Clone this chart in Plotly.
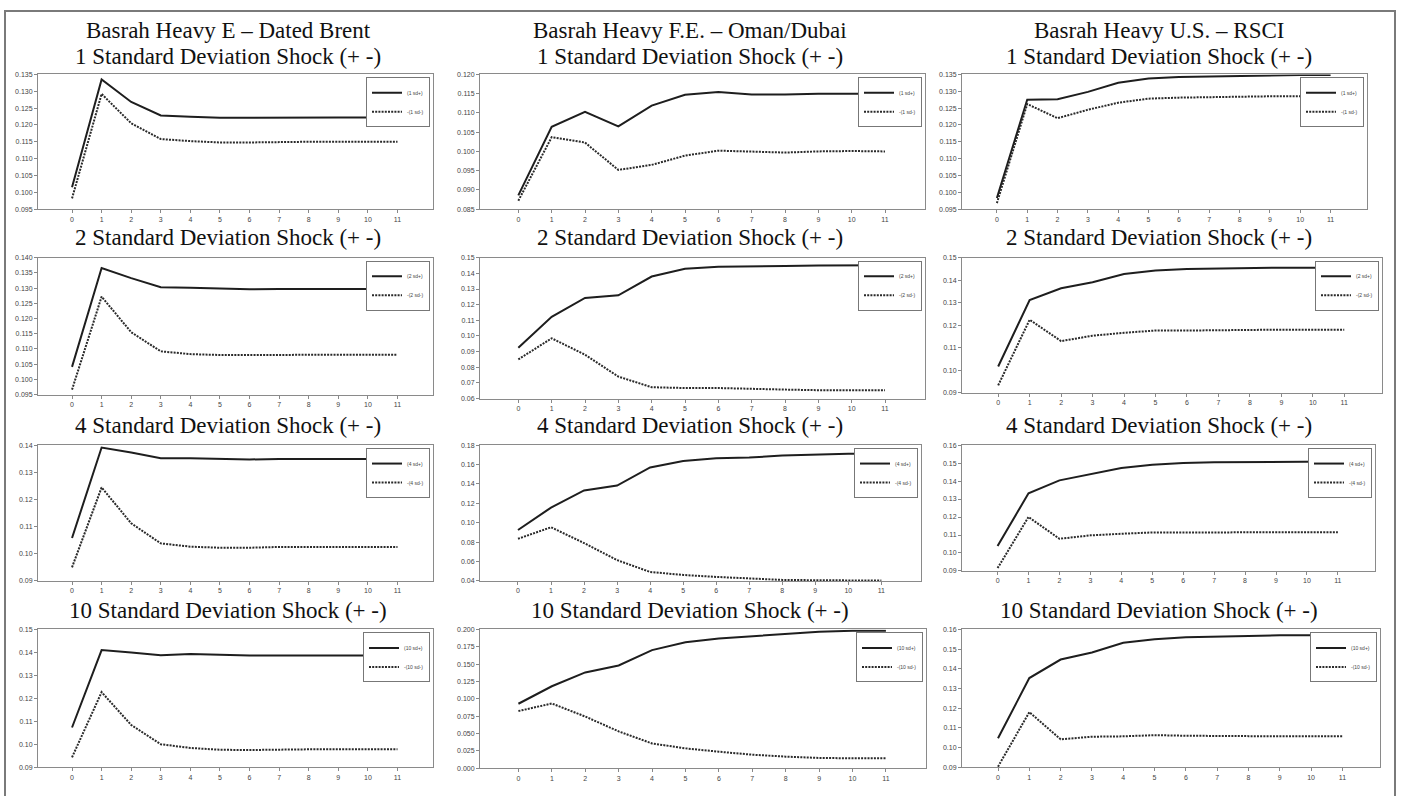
import plotly.graph_objects as go

# ---------------- data ----------------
steps = list(range(12))
x_tick_labels = [str(s) for s in steps]

panel_headers = ["Basrah Heavy E – Dated Brent",
                 "Basrah Heavy F.E. – Oman/Dubai",
                 "Basrah Heavy U.S. – RSCI"]
shock_sizes = [1, 2, 4, 10]

# Basrah Heavy E - Dated Brent
brent_pos_1 = [0.1015, 0.1335, 0.1268, 0.1228, 0.1224, 0.1221, 0.1221, 0.1222, 0.1222, 0.1222, 0.1222, 0.1222]
brent_neg_1 = [0.0982, 0.1292, 0.1205, 0.1158, 0.1152, 0.1148, 0.1148, 0.1150, 0.1150, 0.1150, 0.1150, 0.1150]
brent_pos_2 = [0.1041, 0.1366, 0.1333, 0.1303, 0.1301, 0.1298, 0.1296, 0.1297, 0.1297, 0.1297, 0.1297, 0.1297]
brent_neg_2 = [0.0966, 0.1272, 0.1155, 0.1092, 0.1083, 0.1080, 0.1080, 0.1081, 0.1081, 0.1081, 0.1081, 0.1081]
brent_pos_4 = [0.1058, 0.1391, 0.1373, 0.1352, 0.1352, 0.1349, 0.1347, 0.1349, 0.1349, 0.1349, 0.1349, 0.1349]
brent_neg_4 = [0.0950, 0.1244, 0.1112, 0.1038, 0.1026, 0.1022, 0.1022, 0.1025, 0.1025, 0.1025, 0.1025, 0.1025]
brent_pos_10 = [0.1073, 0.1410, 0.1400, 0.1388, 0.1393, 0.1389, 0.1387, 0.1387, 0.1387, 0.1387, 0.1387, 0.1387]
brent_neg_10 = [0.0943, 0.1227, 0.1084, 0.1000, 0.0984, 0.0976, 0.0975, 0.0978, 0.0978, 0.0978, 0.0978, 0.0978]

# Basrah Heavy F.E. - Oman/Dubai
oman_pos_1 = [0.0886, 0.1064, 0.1103, 0.1065, 0.1119, 0.1147, 0.1154, 0.1148, 0.1148, 0.1150, 0.1150, 0.1150]
oman_neg_1 = [0.0872, 0.1037, 0.1023, 0.0952, 0.0965, 0.0989, 0.1002, 0.0999, 0.0997, 0.1000, 0.1001, 0.1000]
oman_pos_2 = [0.0925, 0.1122, 0.1243, 0.1260, 0.1380, 0.1430, 0.1443, 0.1443, 0.1447, 0.1450, 0.1452, 0.1452]
oman_neg_2 = [0.0850, 0.0985, 0.0880, 0.0740, 0.0672, 0.0667, 0.0667, 0.0660, 0.0657, 0.0653, 0.0653, 0.0653]
oman_pos_4 = [0.0925, 0.1156, 0.1332, 0.1383, 0.1569, 0.1637, 0.1664, 0.1671, 0.1692, 0.1702, 0.1712, 0.1712]
oman_neg_4 = [0.0834, 0.0953, 0.0790, 0.0614, 0.0492, 0.0461, 0.0441, 0.0427, 0.0410, 0.0407, 0.0403, 0.0403]
oman_pos_10 = [0.0929, 0.1181, 0.1381, 0.1481, 0.1702, 0.1814, 0.1871, 0.1905, 0.1943, 0.1967, 0.1981, 0.1981]
oman_neg_10 = [0.0824, 0.0933, 0.0745, 0.0531, 0.0357, 0.0286, 0.0238, 0.0195, 0.0167, 0.0148, 0.0143, 0.0143]

# Basrah Heavy U.S. - RSCI
rsci_pos_1 = [0.0983, 0.1275, 0.1276, 0.1298, 0.1325, 0.1338, 0.1342, 0.1344, 0.1346, 0.1347, 0.1348, 0.1348]
rsci_neg_1 = [0.0968, 0.1262, 0.1220, 0.1245, 0.1266, 0.1278, 0.1281, 0.1283, 0.1284, 0.1285, 0.1285, 0.1285]
rsci_pos_2 = [0.1016, 0.1312, 0.1364, 0.1391, 0.1428, 0.1443, 0.1450, 0.1453, 0.1456, 0.1456, 0.1456, 0.1456]
rsci_neg_2 = [0.0932, 0.1224, 0.1129, 0.1153, 0.1166, 0.1176, 0.1176, 0.1178, 0.1181, 0.1180, 0.1180, 0.1180]
rsci_pos_4 = [0.1039, 0.1332, 0.1404, 0.1437, 0.1473, 0.1491, 0.1500, 0.1504, 0.1506, 0.1509, 0.1509, 0.1509]
rsci_neg_4 = [0.0916, 0.1200, 0.1079, 0.1098, 0.1107, 0.1114, 0.1114, 0.1114, 0.1114, 0.1116, 0.1116, 0.1116]
rsci_pos_10 = [0.1047, 0.1353, 0.1447, 0.1483, 0.1532, 0.1550, 0.1560, 0.1565, 0.1567, 0.1570, 0.1570, 0.1570]
rsci_neg_10 = [0.0903, 0.1180, 0.1042, 0.1055, 0.1057, 0.1063, 0.1060, 0.1058, 0.1058, 0.1058, 0.1058, 0.1058]

series = {
    (0, 0): (brent_pos_1, brent_neg_1), (0, 1): (oman_pos_1, oman_neg_1), (0, 2): (rsci_pos_1, rsci_neg_1),
    (1, 0): (brent_pos_2, brent_neg_2), (1, 1): (oman_pos_2, oman_neg_2), (1, 2): (rsci_pos_2, rsci_neg_2),
    (2, 0): (brent_pos_4, brent_neg_4), (2, 1): (oman_pos_4, oman_neg_4), (2, 2): (rsci_pos_4, rsci_neg_4),
    (3, 0): (brent_pos_10, brent_neg_10), (3, 1): (oman_pos_10, oman_neg_10), (3, 2): (rsci_pos_10, rsci_neg_10),
}

# ---------------- styling / layout ----------------
W, H = 1401, 796
# y-axis settings per panel: (min, max, dtick, format)
y_axes = {
    (0, 0): (0.095, 0.135, 0.005, ".3f"), (0, 1): (0.085, 0.120, 0.005, ".3f"), (0, 2): (0.095, 0.135, 0.005, ".3f"),
    (1, 0): (0.095, 0.140, 0.005, ".3f"), (1, 1): (0.06, 0.15, 0.01, ".2f"), (1, 2): (0.09, 0.15, 0.01, ".2f"),
    (2, 0): (0.09, 0.14, 0.01, ".2f"), (2, 1): (0.04, 0.18, 0.02, ".2f"), (2, 2): (0.09, 0.16, 0.01, ".2f"),
    (3, 0): (0.09, 0.15, 0.01, ".2f"), (3, 1): (0.0, 0.2, 0.025, ".3f"), (3, 2): (0.09, 0.16, 0.01, ".2f"),
}
# pixel boxes of plot areas
col_left = [38, 480, 962]
col_right = {0: [433, 433, 433, 433], 1: [925, 925, 921, 926], 2: [1367, 1382, 1375, 1380]}
row_top = [71, 256, 445, 631]
row_bottom = {0: [207, 394, 582, 770], 1: [207, 398, 582, 771], 2: [207, 392, 572, 770]}
title_y = [53, 236, 425, 612]
title_x = [228, 690, 1159]

def px(x):
    return x / W

def py(y):
    return 1 - y / H

fig = go.Figure()
layout = dict(
    width=W, height=H, margin=dict(l=0, r=0, t=0, b=0),
    paper_bgcolor="white", plot_bgcolor="white", showlegend=True,
)
tick_font = dict(family="Liberation Sans, Arial, sans-serif", size=7, color="#444444")
annotations = []

for r in range(4):
    for c in range(3):
        k = r * 3 + c + 1
        xa = "xaxis" if k == 1 else f"xaxis{k}"
        ya = "yaxis" if k == 1 else f"yaxis{k}"
        xr = "x" if k == 1 else f"x{k}"
        yr = "y" if k == 1 else f"y{k}"
        lg = "legend" if k == 1 else f"legend{k}"
        left, right = col_left[c], col_right[c][r]
        top, bottom = row_top[r], row_bottom[c][r]
        ymin, ymax, dt, fmt = y_axes[(r, c)]
        s = shock_sizes[r]
        pos, neg = series[(r, c)]
        fig.add_trace(go.Scatter(x=steps, y=pos, mode="lines", name=f"({s} sd+)",
                                 line=dict(color="#1e1e1e", width=2), xaxis=xr, yaxis=yr, legend=lg))
        fig.add_trace(go.Scatter(x=steps, y=neg, mode="lines", name=f"-({s} sd-)",
                                 line=dict(color="#2a2a2a", width=2, dash="2px,1.2px"),
                                 xaxis=xr, yaxis=yr, legend=lg))
        layout[xa] = dict(domain=[px(left), px(right)], anchor=yr, range=[-1.15, 12.2],
                          tickmode="array", tickvals=steps, ticktext=x_tick_labels,
                          ticks="outside", ticklen=3, tickcolor="#888888", tickfont=tick_font,
                          showline=True, linecolor="#8a8a8a", linewidth=1, mirror=True,
                          showgrid=False, zeroline=False, fixedrange=True)
        layout[ya] = dict(domain=[py(bottom), py(top)], anchor=xr, range=[ymin, ymax],
                          tick0=ymin, dtick=dt, tickformat=fmt,
                          ticks="outside", ticklen=3, tickcolor="#888888", tickfont=tick_font,
                          showline=True, linecolor="#8a8a8a", linewidth=1, mirror=True,
                          showgrid=False, zeroline=False, fixedrange=True)
        layout[lg] = dict(x=px(right - 3), y=py(top + 3), xanchor="right", yanchor="top",
                          bgcolor="white", bordercolor="#777777", borderwidth=1,
                          font=dict(family="Liberation Sans, Arial, sans-serif", size=5, color="#444444"),
                          itemwidth=30, tracegroupgap=0)
        annotations.append(dict(text=f"{s} Standard Deviation Shock (+ -)", x=px(title_x[c]), y=py(title_y[r]),
                                xref="paper", yref="paper", showarrow=False, xanchor="center", yanchor="middle",
                                font=dict(family="Liberation Serif, Times New Roman, serif", size=23, color="#111111")))

for c in range(3):
    annotations.append(dict(text=panel_headers[c], x=px(title_x[c]), y=py(27),
                            xref="paper", yref="paper", showarrow=False, xanchor="center", yanchor="middle",
                            font=dict(family="Liberation Serif, Times New Roman, serif", size=23, color="#111111")))

layout["annotations"] = annotations
layout["shapes"] = [dict(type="rect", xref="paper", yref="paper", x0=px(5), x1=px(1395), y0=-0.02, y1=py(7),
                         line=dict(color="#7a7a7a", width=2), fillcolor="rgba(0,0,0,0)", layer="below")]
fig.update_layout(**layout)

fig.write_html("out.html", config={"displayModeBar": False},
               post_script="document.body.style.margin='0';")
